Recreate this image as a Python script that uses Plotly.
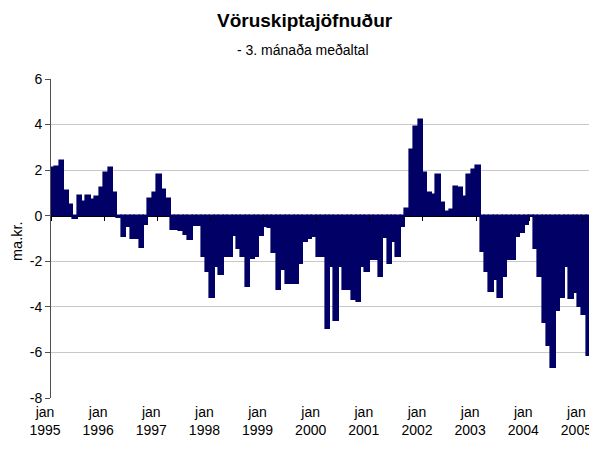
import plotly.graph_objects as go

# Monthly trade balance (ma.kr., 3-month average), Jan 1995 - Feb 2005
y1995 = [2.1, 2.15, 2.4, 1.08, 0.47, -0.15, 0.88, 0.61, 0.88, 0.69, 0.83, 1.2]
y1996 = [1.86, 2.08, 0.98, -0.12, -0.92, -0.48, -1.0, -1.04, -1.43, -0.41, 0.73, 0.98]
y1997 = [1.78, 1.15, 0.75, -0.63, -0.63, -0.66, -0.86, -1.08, -0.45, -0.45, -1.83, -2.49]
y1998 = [-3.63, -2.25, -2.6, -1.8, -1.8, -0.9, -1.44, -1.8, -3.13, -1.88, -1.8, -0.88]
y1999 = [-0.49, -0.52, -1.63, -3.27, -2.39, -3.0, -3.0, -2.98, -2.14, -1.15, -1.0, -0.93]
y2000 = [-1.8, -1.8, -4.95, -2.24, -4.6, -2.24, -3.24, -3.24, -3.7, -3.78, -2.24, -2.46]
y2001 = [-1.95, -1.95, -2.69, -0.96, -2.1, -1.15, -1.8, -0.49, 0.31, 2.9, 3.9, 4.19]
y2002 = [1.88, 1.0, 0.93, 1.78, 0.56, 0.17, 0.24, 1.24, 1.2, 0.8, 1.78, 2.02]
y2003 = [2.2, -1.6, -2.46, -3.34, -2.83, -3.59, -2.68, -1.95, -1.95, -0.93, -0.78, -0.42]
y2004 = [-0.05, -1.44, -2.68, -4.73, -5.72, -6.7, -4.2, -3.63, -2.27, -3.67, -3.38, -4.0]
y2005 = [-4.36, -6.16]

years = [1995, 1996, 1997, 1998, 1999, 2000, 2001, 2002, 2003, 2004, 2005]
tick_labels = ["jan<br>%d" % y for y in years]
y_ticks = [-8, -6, -4, -2, 0, 2, 4, 6]
y_tick_text = ["%d" % v for v in y_ticks]

values = (y1995 + y1996 + y1997 + y1998 + y1999 + y2000 + y2001 + y2002
          + y2003 + y2004 + y2005)
months = list(range(len(values)))
tick_pos = [12 * i - 0.5 for i in range(len(years))]

NAVY = "#000066"
FONT = "Liberation Sans, Arial, sans-serif"

fig = go.Figure()
fig.add_trace(go.Bar(x=months, y=values, marker=dict(color=NAVY, line=dict(color=NAVY, width=1.6)),
                     hoverinfo="skip"))
fig.add_trace(go.Scatter(x=[None], y=[None], xaxis="x2", showlegend=False, hoverinfo="skip"))

# page body has an 8px default margin: figure is sized/offset to compensate
xrange = [-0.5, 122.8]
fig.update_layout(
    width=589, height=442,
    margin=dict(l=43, r=0, t=71, b=52, autoexpand=False),
    paper_bgcolor="white", plot_bgcolor="white",
    bargap=0, showlegend=False,
    font=dict(family=FONT, size=14, color="black"),
    xaxis=dict(range=xrange, tickmode="array", tickvals=tick_pos, ticktext=tick_labels,
               showgrid=False, zeroline=False, showline=False, ticks="", ticklen=0,
               tickfont=dict(size=14), automargin=False, ticklabelshift=-6,
               ticklabelstandoff=4),
    xaxis2=dict(range=xrange, overlaying="x", anchor="free", position=8 / 14, side="bottom",
                tickmode="array", tickvals=tick_pos, showticklabels=False, ticks="outside",
                ticklen=4, tickcolor="black", tickwidth=1, showgrid=False, showline=False,
                zeroline=False, automargin=False),
    yaxis=dict(range=[-8, 6], tickmode="array", tickvals=y_ticks, ticktext=y_tick_text,
               showgrid=True, gridcolor="#c8c8c8", gridwidth=1, zeroline=True,
               zerolinecolor="black", zerolinewidth=1.5, showline=True, linecolor="#505050",
               linewidth=1, ticks="outside", ticklen=5, tickcolor="#505050",
               tickfont=dict(size=14), automargin=False),
    annotations=[
        dict(text="<b>Vöruskiptajöfnuður</b>", xref="paper", yref="paper",
             x=(305 - 51) / 546, y=1 + (79 - 20) / 319, xanchor="center", yanchor="middle",
             showarrow=False, font=dict(size=19, family=FONT)),
        dict(text="- 3. mánaða meðaltal", xref="paper", yref="paper",
             x=(303 - 51) / 546, y=1 + (79 - 50) / 319, xanchor="center", yanchor="middle",
             showarrow=False, font=dict(size=14, family=FONT)),
        dict(text="ma.kr.", xref="paper", yref="paper", textangle=-90,
             x=(17 - 51) / 546, y=1 - (242 - 79) / 319, xanchor="center", yanchor="middle",
             showarrow=False, font=dict(size=14.5, family=FONT)),
    ],
)

fig.write_html("out.html")
